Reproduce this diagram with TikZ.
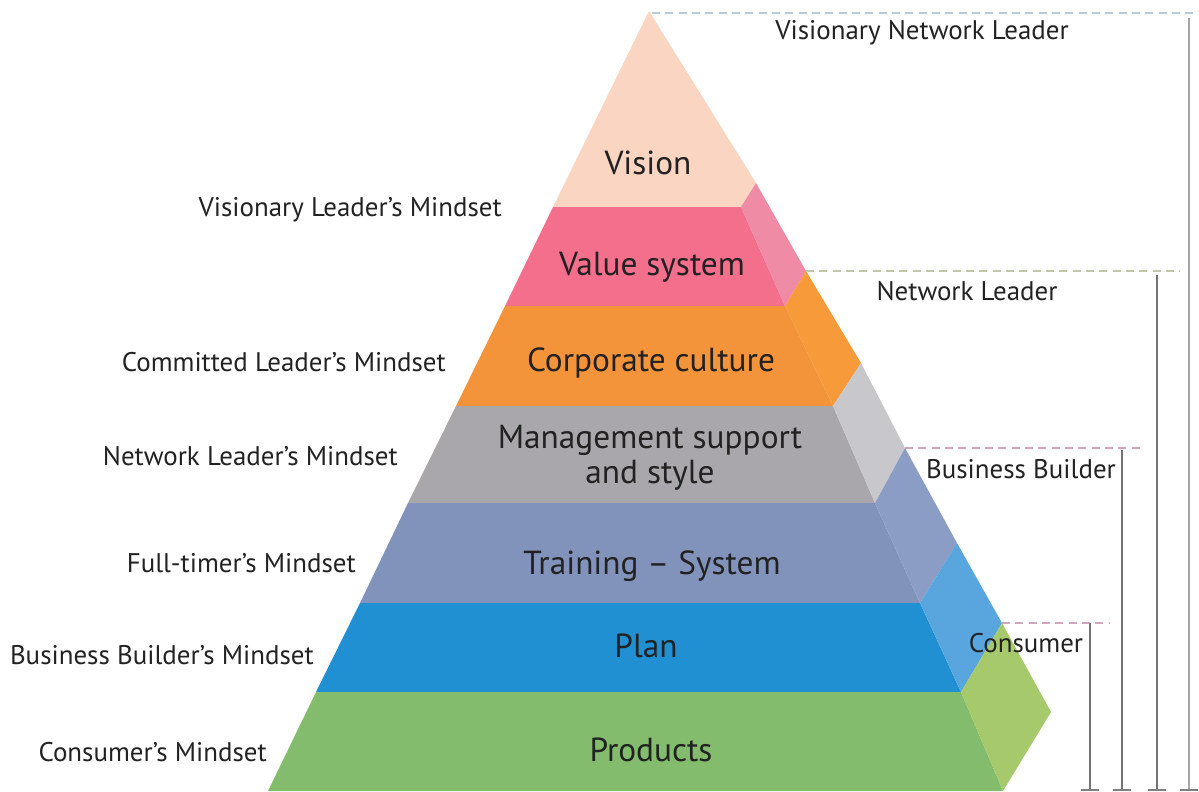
\documentclass[tikz,border=0pt]{standalone}
\usepackage{fontspec}
\setmainfont{PT Sans}
\definecolor{cVision}{HTML}{F9D5C2}
\definecolor{cValue}{HTML}{F36F8C}
\definecolor{cValueS}{HTML}{F08BA6}
\definecolor{cCorp}{HTML}{F3933A}
\definecolor{cCorpS}{HTML}{F69A3A}
\definecolor{cMgmt}{HTML}{A9A7AB}
\definecolor{cMgmtS}{HTML}{C8C8CC}
\definecolor{cTrain}{HTML}{8293BB}
\definecolor{cTrainS}{HTML}{8B9DC4}
\definecolor{cPlan}{HTML}{2090D3}
\definecolor{cPlanS}{HTML}{59A5DE}
\definecolor{cProd}{HTML}{83BC6C}
\definecolor{cProdS}{HTML}{A5C96B}
\definecolor{cText}{HTML}{222222}
\definecolor{gBlue}{HTML}{B9CBD6}
\definecolor{gGreen}{HTML}{BFC8A8}
\definecolor{gPink}{HTML}{CFA6BC}
\tikzset{
  x=0.75pt,y=-0.75pt,
  tier/.style={font=\fontsize{25}{25}\selectfont,text=cText,inner sep=0pt,align=center},
  side/.style={font=\fontsize{20.2}{20}\selectfont,text=cText,inner sep=0pt},
  guide/.style={dash pattern=on 6pt off 4pt,line width=1.2pt},
  bar/.style={draw=#1,line width=1.8pt},
  tick/.style={draw=#1,line width=1pt}
}
\begin{document}
\begin{tikzpicture}
\useasboundingbox (0,0) rectangle (1199,792);
% pyramid outline points
\coordinate (A) at (649,11);
\coordinate (L1) at (553,207); \coordinate (F1) at (741,207); \coordinate (R0) at (756,183);
\coordinate (L2) at (505,306); \coordinate (F2) at (785,306); \coordinate (R1) at (806,271);
\coordinate (L3) at (456,406); \coordinate (F3) at (833,406); \coordinate (R2) at (861,363);
\coordinate (L4) at (408,503); \coordinate (F4) at (875,503); \coordinate (R3) at (905,448);
\coordinate (L5) at (360,603); \coordinate (F5) at (920,603); \coordinate (R4) at (957,543);
\coordinate (L6) at (316,692); \coordinate (F6) at (961,692); \coordinate (R5) at (1002,623);
\coordinate (L7) at (268,791); \coordinate (F7) at (1003,791); \coordinate (R6) at (1051,712);
% tiers
\fill[cVision] (A) -- (R0) -- (F1) -- (L1) -- cycle;
\fill[cValue] (L1) -- (F1) -- (F2) -- (L2) -- cycle;
\fill[cValueS] (F1) -- (R0) -- (R1) -- (F2) -- cycle;
\fill[cCorp] (L2) -- (F2) -- (F3) -- (L3) -- cycle;
\fill[cCorpS] (F2) -- (R1) -- (R2) -- (F3) -- cycle;
\fill[cMgmt] (L3) -- (F3) -- (F4) -- (L4) -- cycle;
\fill[cMgmtS] (F3) -- (R2) -- (R3) -- (F4) -- cycle;
\fill[cTrain] (L4) -- (F4) -- (F5) -- (L5) -- cycle;
\fill[cTrainS] (F4) -- (R3) -- (R4) -- (F5) -- cycle;
\fill[cPlan] (L5) -- (F5) -- (F6) -- (L6) -- cycle;
\fill[cPlanS] (F5) -- (R4) -- (R5) -- (F6) -- cycle;
\fill[cProd] (L6) -- (F6) -- (F7) -- (L7) -- cycle;
\fill[cProdS] (F6) -- (R5) -- (R6) -- (F7) -- cycle;
% tier labels
\node[tier] (tVision) at (648,163) {Vision};
\node[tier] (tValue) at (652,267) {Value system};
\node[tier] (tCorp) at (651,363) {Corporate culture};
\node[tier] (tMgmt) at (650,458) {Management support\\[1pt]and style};
\node[tier] (tTrain) at (652,566) {Training – System};
\node[tier] (tPlan) at (646,646) {Plan};
\node[tier] (tProd) at (651,750) {Products};
% left labels
\node[side,anchor=east] (m1) at (502,210) {Visionary Leader's Mindset};
\node[side,anchor=east] (m2) at (446,362) {Committed Leader's Mindset};
\node[side,anchor=east] (m3) at (398,456) {Network Leader's Mindset};
\node[side,anchor=east] (m4) at (356,563) {Full-timer's Mindset};
\node[side,anchor=east] (m5) at (314,655) {Business Builder's Mindset};
\node[side,anchor=east] (m6) at (267,752) {Consumer's Mindset};
% right labels
\node[side] (r1) at (922,33) {Visionary Network Leader};
\node[side] (r2) at (967,291) {Network Leader};
\node[side] (r3) at (1021,469) {Business Builder};
\node[side] (r4) at (1026,643) {Consumer};
% guides
\coordinate (G1) at (1199,13); \coordinate (A1) at (652,13);
\coordinate (G2) at (1180,271);
\coordinate (G3) at (1141,448);
\coordinate (G4) at (1110,623);
\draw[guide,draw=gBlue] (A1) -- (G1);
\draw[guide,draw=gGreen] (R1) -- (G2);
\draw[guide,draw=gPink] (R3) -- (G3);
\draw[guide,draw=gPink] (R5) -- (G4);
% bars
\coordinate (B4t) at (1090,623); \coordinate (B4b) at (1090,790);
\coordinate (B3t) at (1122,450); \coordinate (B3b) at (1122,790);
\coordinate (B2t) at (1157,275); \coordinate (B2b) at (1157,790);
\coordinate (B1t) at (1189,18);  \coordinate (B1b) at (1189,790);
\draw[bar=black!55] (B4t) -- (B4b);
\draw[bar=black!55] (B3t) -- (B3b);
\draw[bar=black!55] (B2t) -- (B2b);
\draw[bar=black!35] (B1t) -- (B1b);
\foreach \b in {B1b,B2b,B3b,B4b}{
  \draw[tick=black!50] ([xshift=-7pt]\b) -- ([xshift=7pt]\b);
}
\end{tikzpicture}
\end{document}
